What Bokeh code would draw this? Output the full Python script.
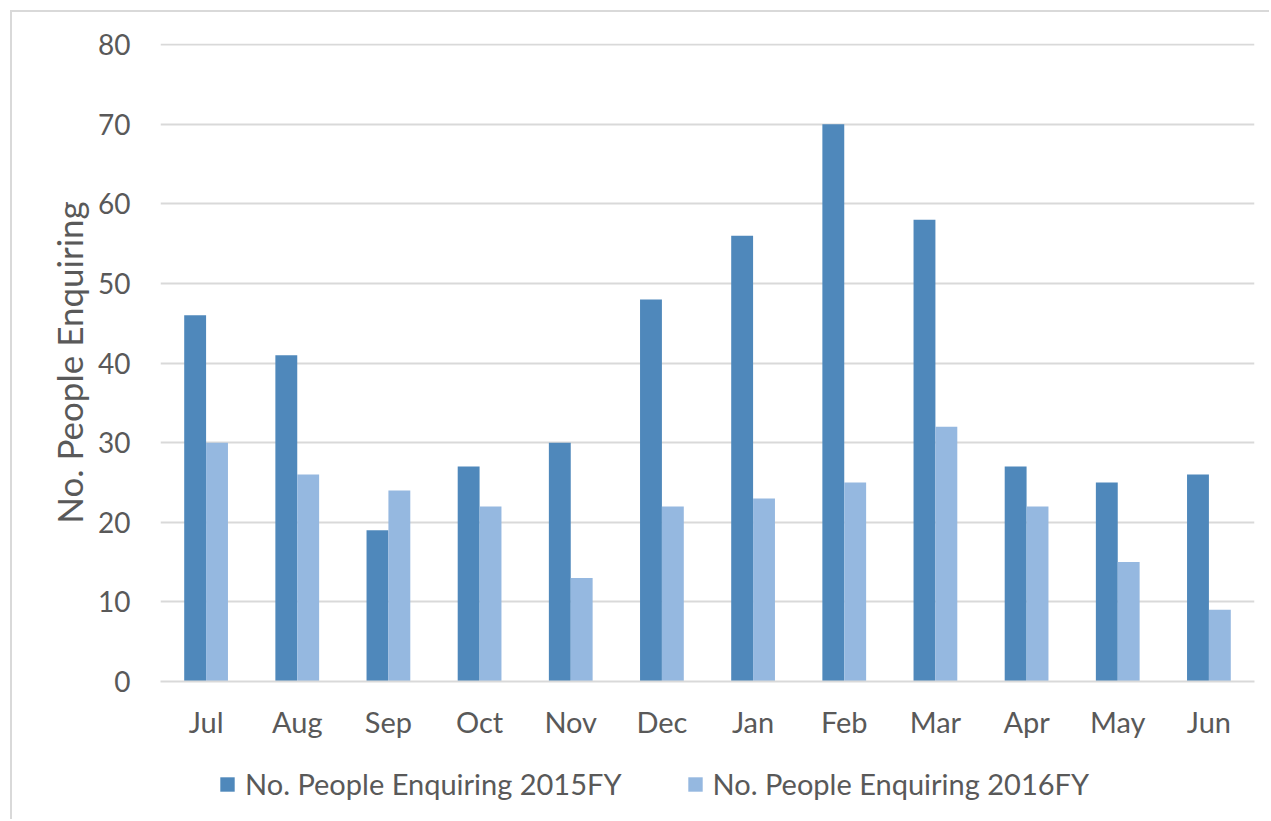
from bokeh.plotting import figure
from bokeh.layouts import column
from bokeh.models import (ColumnDataSource, FactorRange, Range1d, Legend, LegendItem,
                          SingleIntervalTicker)
from bokeh.transform import dodge
from bokeh.embed import file_html
from bokeh.resources import INLINE

# Monthly enquiries, financial year order
months = ["Jul", "Aug", "Sep", "Oct", "Nov", "Dec", "Jan", "Feb", "Mar", "Apr", "May", "Jun"]
enq_2015 = [46, 41, 19, 27, 30, 48, 56, 70, 58, 27, 25, 26]
enq_2016 = [30, 26, 24, 22, 13, 22, 23, 25, 32, 22, 15, 9]
series_names = ["No. People Enquiring 2015FY", "No. People Enquiring 2016FY"]
y_title = "No. People Enquiring"

DARK = "#4F88BB"
LIGHT = "#95B8E0"
GRID = "#D9D9D9"
TEXT = "#595959"
FONT = "Lato"
BORDER = f"2px solid {GRID}"

source = ColumnDataSource(dict(month=months, fy15=enq_2015, fy16=enq_2016))
bw = 0.24

# main chart; the chart box sits 10px in from the page corner with a light top/left border
p = figure(
    width=1259, height=739,
    x_range=FactorRange(*months, range_padding=0),
    y_range=Range1d(0, 80.15),
    output_backend="svg", toolbar_location=None,
    min_border_left=148, min_border_right=17,
    min_border_top=31, min_border_bottom=70,
    background_fill_color="white", border_fill_color="white",
    margin=(10, 0, 0, 10),
    styles={"border-top": BORDER, "border-left": BORDER},
)
p.outline_line_color = None

p.vbar(x=dodge("month", -bw / 2, range=p.x_range), top="fy15", width=bw,
       source=source, fill_color=DARK, line_color=None)
p.vbar(x=dodge("month", bw / 2, range=p.x_range), top="fy16", width=bw,
       source=source, fill_color=LIGHT, line_color=None)

# y axis
p.yaxis.ticker = SingleIntervalTicker(interval=10)
p.yaxis.axis_line_color = None
p.yaxis.major_tick_line_color = None
p.yaxis.minor_tick_line_color = None
p.yaxis.major_label_text_font = FONT
p.yaxis.major_label_text_font_size = "28px"
p.yaxis.major_label_text_color = TEXT
p.yaxis.major_label_standoff = 24
p.yaxis.axis_label = y_title
p.yaxis.axis_label_text_font = FONT
p.yaxis.axis_label_text_font_size = "35px"
p.yaxis.axis_label_text_font_style = "normal"
p.yaxis.axis_label_text_color = TEXT
p.yaxis.axis_label_standoff = 5

# x axis
p.xaxis.axis_line_color = GRID
p.xaxis.axis_line_width = 2
p.xaxis.major_tick_line_color = None
p.xaxis.minor_tick_line_color = None
p.xaxis.major_label_text_font = FONT
p.xaxis.major_label_text_font_size = "29px"
p.xaxis.major_label_text_color = TEXT
p.xaxis.major_label_standoff = 16

p.xgrid.grid_line_color = None
p.ygrid.grid_line_color = GRID
p.ygrid.grid_line_width = 2

# legend strip under the chart; its bar renderers are hidden so only the
# legend swatches and labels show
lg = figure(
    width=1259, height=70,
    x_range=p.x_range, y_range=Range1d(-1000, -900),
    x_axis_location=None, y_axis_location=None,
    output_backend="svg", toolbar_location=None,
    min_border=0, background_fill_color="white", border_fill_color="white",
    margin=(0, 0, 0, 10),
    styles={"border-left": BORDER},
)
lg.grid.visible = False
lg.outline_line_color = None
k1 = lg.vbar(x=dodge("month", -bw / 2, range=p.x_range), top="fy15", width=bw,
             source=source, fill_color=DARK, line_color=None, visible=False)
k2 = lg.vbar(x=dodge("month", bw / 2, range=p.x_range), top="fy16", width=bw,
             source=source, fill_color=LIGHT, line_color=None, visible=False)

legend = Legend(
    items=[LegendItem(label=series_names[0], renderers=[k1]),
           LegendItem(label=series_names[1], renderers=[k2])],
    orientation="horizontal", location=(58, 18),
    label_text_font=FONT, label_text_font_size="29px", label_text_color=TEXT,
    glyph_width=18, glyph_height=18, label_standoff=9, spacing=64,
    border_line_color=None, background_fill_alpha=0,
    inactive_fill_alpha=0,
    padding=0, margin=0,
)
lg.add_layout(legend, "center")

layout = column(p, lg, spacing=0)
open("out.html", "w").write(file_html(layout, INLINE))
